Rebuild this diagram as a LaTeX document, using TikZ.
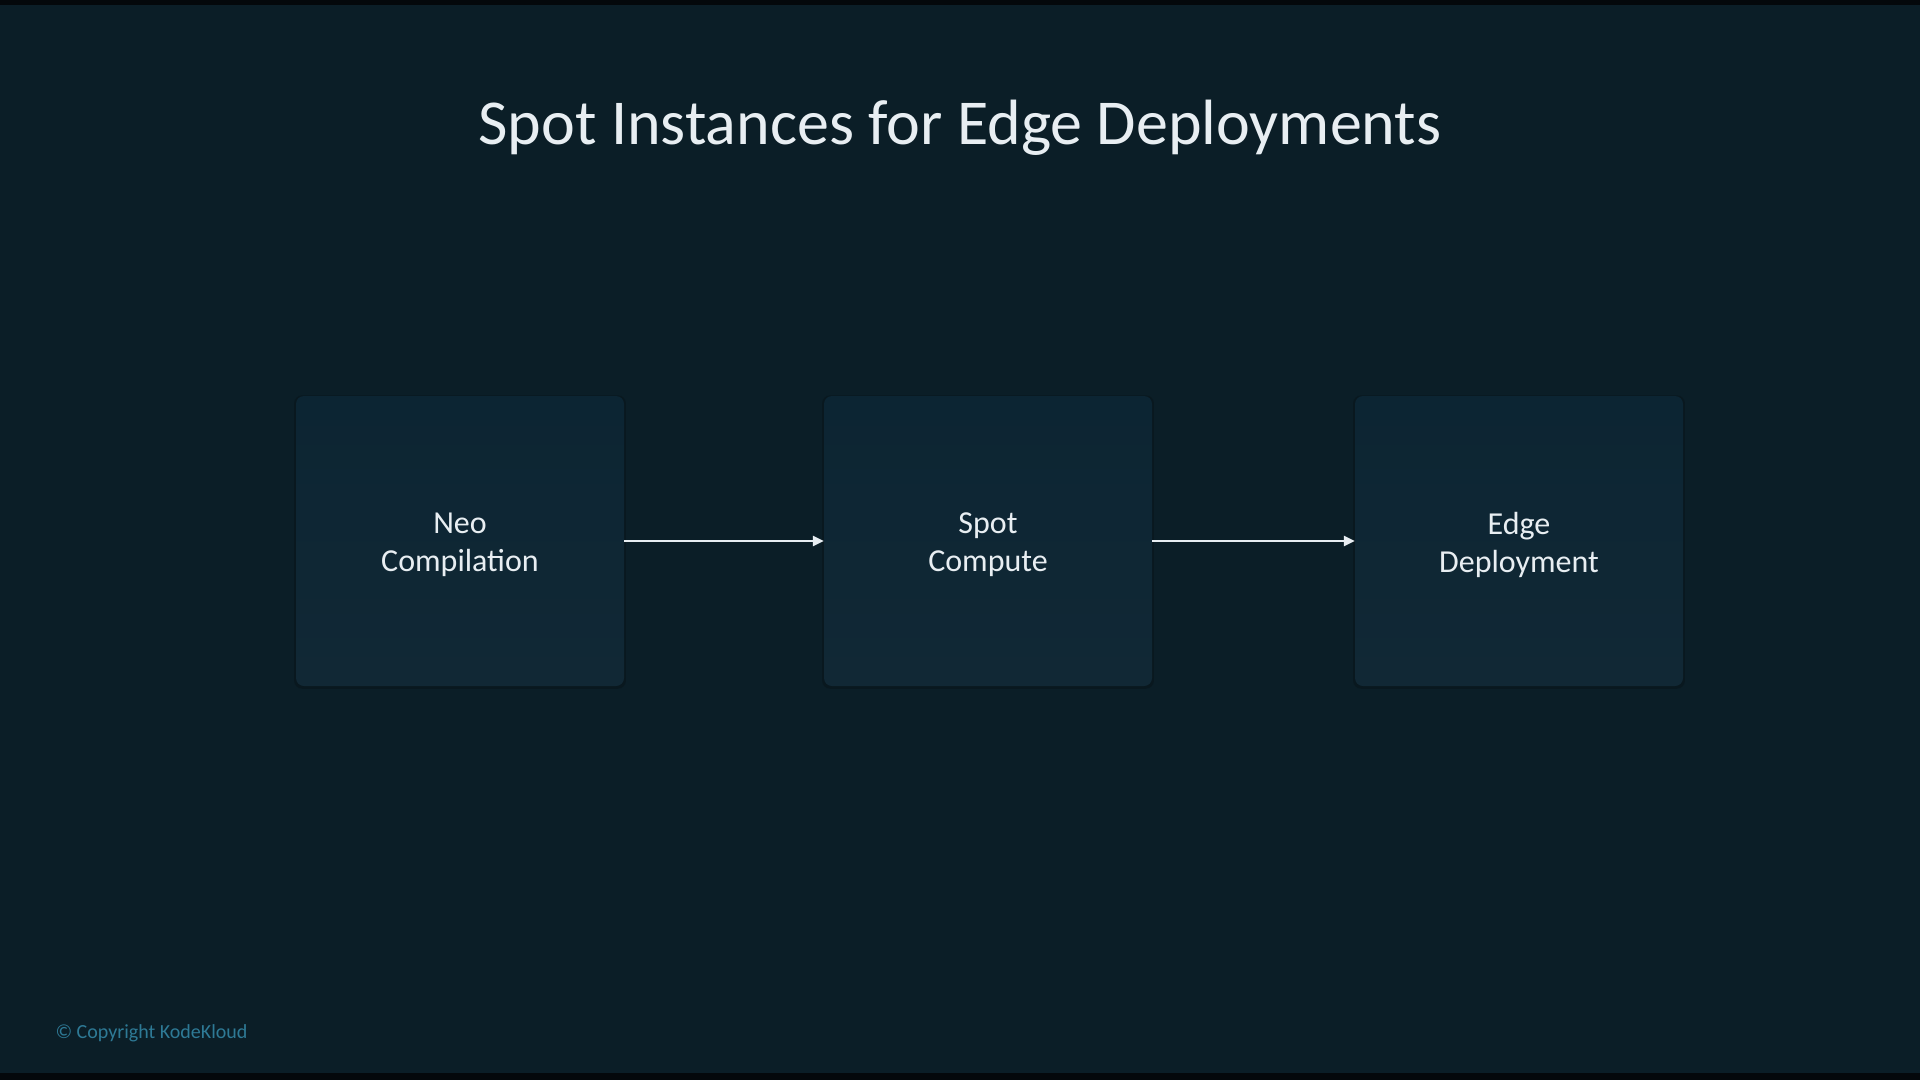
\documentclass[tikz,border=0pt]{standalone}
\usepackage{fontspec}
\setmainfont{Carlito}
\usetikzlibrary{arrows.meta,shadows}
\definecolor{bgcol}{HTML}{0B1E27}
\definecolor{barcol}{HTML}{04080B}
\definecolor{boxtl}{HTML}{0C2533}
\definecolor{boxbr}{HTML}{112835}
\definecolor{txtcol}{HTML}{E8EEF2}
\definecolor{copycol}{HTML}{2E7A96}
\tikzset{
  stagebox/.style={rectangle, rounded corners=8pt, minimum width=328pt, minimum height=290pt,
    inner sep=0pt, shading=axis, left color=boxtl, right color=boxbr, shading angle=0,
    draw=none, drop shadow={shadow xshift=0pt, shadow yshift=-1pt, shadow scale=1.012, opacity=0.18, fill=black}},
  boxlabel/.style={text=txtcol, font=\fontsize{32}{38}\selectfont, align=center, inner sep=0pt},
  flowarrow/.style={draw=txtcol, line width=2.5pt, -{Triangle[length=11pt,width=10pt]}},
}
\begin{document}
\begin{tikzpicture}[x=1pt,y=-1pt]
\useasboundingbox (0,0) rectangle (1920,1080);
\fill[bgcol] (0,0) rectangle (1920,1080);
\fill[barcol] (0,0) rectangle (1920,5);
\fill[barcol] (0,1073) rectangle (1920,1080);
\node[text=txtcol, font=\fontsize{64}{76}\selectfont] (title) at (960,128) {Spot Instances for Edge Deployments};
\node[stagebox] (neo) at (460,541) {};
\node[stagebox] (spot) at (988,541) {};
\node[stagebox] (edge) at (1519,541) {};
\node[boxlabel] (neol) at ([yshift=-4pt]neo.center) {Neo\\Compilation};
\node[boxlabel] (spotl) at ([yshift=-4pt]spot.center) {Spot\\Compute};
\node[boxlabel] (edgel) at ([yshift=-4pt]edge.center) {Edge\\Deployment};
\draw[flowarrow] (neo.east) -- (spot.west);
\draw[flowarrow] (spot.east) -- (edge.west);
\node[anchor=west, text=copycol, font=\fontsize{20}{24}\selectfont] (copy) at (52,1033) {© Copyright KodeKloud};
\end{tikzpicture}
\end{document}
